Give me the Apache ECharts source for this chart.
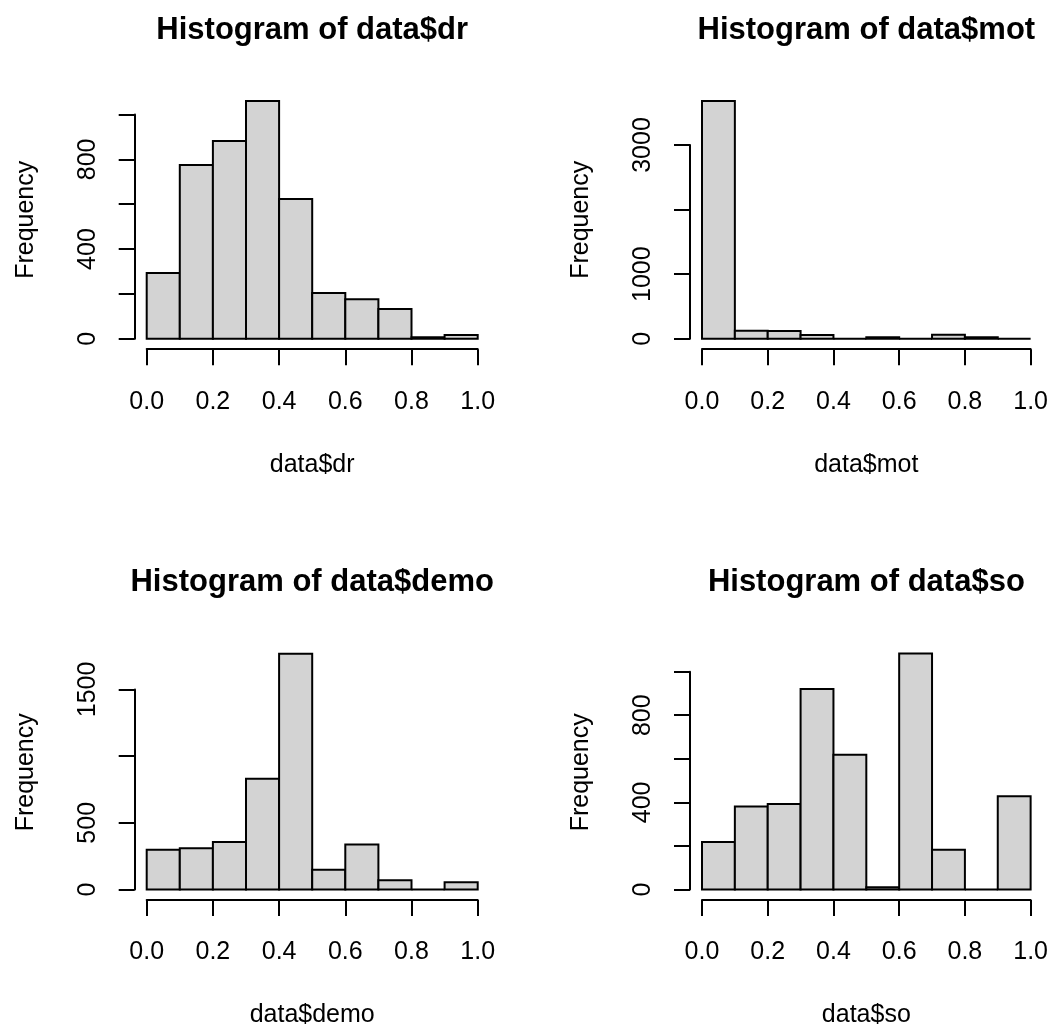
<!DOCTYPE html>
<html><head><meta charset="utf-8">
<script src="https://cdn.jsdelivr.net/npm/echarts@6/dist/echarts.min.js"></script>
<style>html,body{margin:0;padding:0;background:#fff}#c{width:1051px;height:1029px}</style>
</head><body><div id="c"></div>
<script>
// ---- data ----
const binEdges = [0.0, 0.1, 0.2, 0.3, 0.4, 0.5, 0.6, 0.7, 0.8, 0.9, 1.0];
const xTicks = [0.0, 0.2, 0.4, 0.6, 0.8, 1.0];

const drCounts   = [293, 775, 882, 1061, 623, 204, 176, 132, 7, 16];
const motCounts  = [3683, 124, 118, 57, 0, 22, 0, 62, 22, 0];
const demoCounts = [298, 310, 357, 831, 1768, 149, 337, 70, 0, 54];
const soCounts   = [218, 381, 392, 920, 619, 10, 1083, 182, 0, 428];

const drYTicks   = [0, 200, 400, 600, 800, 1000];
const drYLabels  = [0, 400, 800];
const motYTicks  = [0, 1000, 2000, 3000];
const motYLabels = [0, 1000, 3000];
const demoYTicks = [0, 500, 1000, 1500];
const demoYLabels= [0, 500, 1500];
const soYTicks   = [0, 200, 400, 600, 800, 1000];
const soYLabels  = [0, 400, 800];

const varNames = ['data$dr', 'data$mot', 'data$demo', 'data$so'];
const titles = varNames.map(v => 'Histogram of ' + v);
const yName = 'Frequency';

// ---- layout (R-like plot regions) ----
const FONT = "'Liberation Sans', Arial, sans-serif";
const RH = 256.8;               // plot region height in px
const layout = [
  {x0: 146.7, x1: 477.7, y0: 338.7},
  {x0: 702.0, x1: 1030.7, y0: 338.7},
  {x0: 146.7, x1: 477.7, y0: 891.2},
  {x0: 702.0, x1: 1030.7, y0: 891.2}
];
const panels = [
  {counts: drCounts,   yTicks: drYTicks,   yLabels: drYLabels},
  {counts: motCounts,  yTicks: motYTicks,  yLabels: motYLabels},
  {counts: demoCounts, yTicks: demoYTicks, yLabels: demoYLabels},
  {counts: soCounts,   yTicks: soYTicks,   yLabels: soYLabels}
];

const grids = [], xAxes = [], yAxes = [], series = [], graphics = [];
panels.forEach((p, i) => {
  const L = layout[i];
  const maxC = Math.max(...p.counts);
  const yTop = p.yTicks[p.yTicks.length - 1];
  const scale = RH / (1.08 * maxC);
  const h = yTop * scale;
  grids.push({left: L.x0, top: L.y0 - h, width: L.x1 - L.x0, height: h, containLabel: false});
  xAxes.push({
    type: 'value', gridIndex: i, min: xTicks[0], max: xTicks[xTicks.length - 1],
    interval: xTicks[1] - xTicks[0], offset: 10.5,
    axisLine: {show: true, onZero: false, lineStyle: {color: '#000', width: 2}},
    axisTick: {show: true, length: 16, lineStyle: {color: '#000', width: 2}},
    axisLabel: {formatter: v => v.toFixed(1), margin: 40, fontSize: 25, color: '#000', fontFamily: FONT,
                showMinLabel: true, showMaxLabel: true},
    splitLine: {show: false},
    name: varNames[i], nameLocation: 'middle', nameGap: 103,
    nameTextStyle: {fontSize: 25, color: '#000', fontFamily: FONT}
  });
  yAxes.push({
    type: 'value', gridIndex: i, min: 0, max: yTop, interval: p.yTicks[1] - p.yTicks[0], offset: 12,
    axisLine: {show: true, onZero: false, lineStyle: {color: '#000', width: 2}},
    axisTick: {show: true, length: 16, lineStyle: {color: '#000', width: 2}},
    axisLabel: {rotate: 90, margin: 34, fontSize: 25, color: '#000', fontFamily: FONT,
                formatter: v => p.yLabels.includes(v) ? String(v) : ''},
    splitLine: {show: false}
  });
  series.push({
    type: 'custom', xAxisIndex: i, yAxisIndex: i, clip: false,
    data: p.counts.map((c, k) => [binEdges[k], binEdges[k + 1], c]),
    encode: {x: [0, 1], y: 2},
    renderItem: (params, api) => {
      const a = api.coord([api.value(0), 0]);
      const b = api.coord([api.value(1), api.value(2)]);
      return {type: 'rect',
        shape: {x: a[0], y: b[1], width: b[0] - a[0], height: a[1] - b[1]},
        style: {fill: '#D3D3D3', stroke: '#000', lineWidth: 2}};
    }
  });
  const regionBottom = L.y0 + 0.04 * RH / 1.08;
  const regionTop = regionBottom - RH;
  const cx = (L.x0 + L.x1) / 2;
  graphics.push({
    type: 'text', x: cx, y: regionTop - 61,
    style: {text: titles[i], align: 'center', verticalAlign: 'middle',
            font: "bold 31px " + FONT, fill: '#000'}
  });
  graphics.push({
    type: 'text', x: L.x0 - 121, y: (regionTop + regionBottom) / 2, rotation: Math.PI / 2,
    style: {text: yName, align: 'center', verticalAlign: 'middle',
            font: "25px " + FONT, fill: '#000'}
  });
});

const chart = echarts.init(document.getElementById('c'), null, {renderer: 'canvas'});
chart.setOption({
  animation: false,
  backgroundColor: '#fff',
  grid: grids, xAxis: xAxes, yAxis: yAxes, series: series, graphic: graphics
});
</script></body></html>
